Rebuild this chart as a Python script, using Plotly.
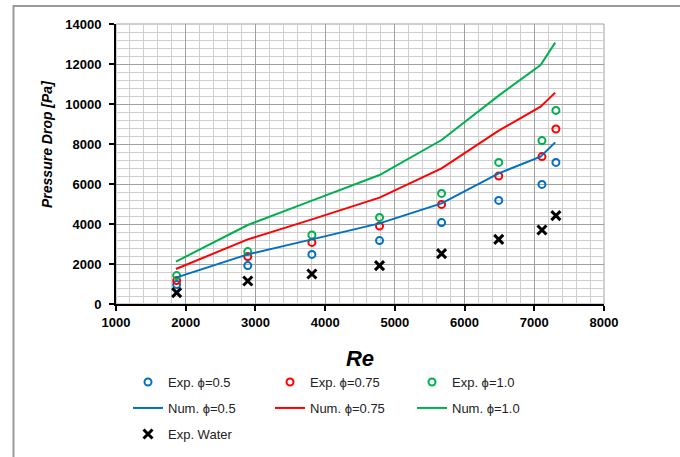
import plotly.graph_objects as go

# ---- data ----
re_exp = [1870, 2890, 3810, 4780, 5670, 6490, 7110, 7310]
re_num = [1860, 2890, 3810, 4780, 5670, 6490, 7090, 7300]
exp_05 = [970, 1920, 2480, 3170, 4070, 5180, 5980, 7080]
exp_075 = [1170, 2370, 3080, 3900, 4980, 6400, 7370, 8750]
exp_10 = [1420, 2620, 3450, 4330, 5530, 7080, 8170, 9680]
num_05 = [1320, 2480, 3230, 4030, 5030, 6530, 7370, 8080]
num_075 = [1750, 3230, 4230, 5320, 6780, 8670, 9870, 10570]
num_10 = [2120, 3950, 5170, 6450, 8200, 10420, 11950, 13070]
exp_water = [570, 1150, 1500, 1920, 2520, 3230, 3700, 4420]

BLUE = "#0070C0"
RED = "#FF0000"
GREEN = "#00B050"
FONT = "Liberation Sans"

fig = go.Figure()

def circ(name, y, color, legend):
    fig.add_trace(go.Scatter(x=re_exp, y=y, mode="markers", name=name, legend=legend,
                             marker=dict(symbol="circle-open", size=7, color=color,
                                         line=dict(width=2, color=color))))

def line(name, y, color, legend):
    fig.add_trace(go.Scatter(x=re_num, y=y, mode="lines", name=name, legend=legend,
                             line=dict(color=color, width=2)))

circ("Exp. ϕ=0.5", exp_05, BLUE, "legend")
circ("Exp. ϕ=0.75", exp_075, RED, "legend")
circ("Exp. ϕ=1.0", exp_10, GREEN, "legend")
line("Num. ϕ=0.5", num_05, BLUE, "legend2")
line("Num. ϕ=0.75", num_075, RED, "legend2")
line("Num. ϕ=1.0", num_10, GREEN, "legend2")
fig.add_trace(go.Scatter(x=re_exp, y=exp_water, mode="markers", name="Exp. Water", legend="legend3",
                         marker=dict(symbol="x-thin", size=9, color="black",
                                     line=dict(width=3, color="black"))))

# page body margin is removed below, so layout is in window pixels
W, H = 680, 457
PL, PR, PT, PB = 116, 604, 24, 304          # plot area in window pixels
L, T = PL, PT
R, B = W - PR, H - PB
pw, ph = PR - PL, PB - PT

def px(x):
    return (x - PL) / pw

def py(y):
    return (PB - y) / ph

legend_common = dict(orientation="h", entrywidth=97, entrywidthmode="pixels",
                     font=dict(family=FONT, size=13, color="#222"),
                     bgcolor="rgba(0,0,0,0)", xanchor="left", yanchor="middle",
                     itemwidth=30, tracegroupgap=0)

fig.update_layout(
    width=W, height=H,
    margin=dict(l=L, r=R, t=T, b=B, autoexpand=False),
    paper_bgcolor="white", plot_bgcolor="white",
    font=dict(family=FONT, color="black"),
    showlegend=True,
    legend=dict(x=px(128), y=py(382), **legend_common),
    legend2=dict(x=px(128), y=py(408), **legend_common),
    legend3=dict(x=px(128), y=py(434), **legend_common),
    xaxis=dict(range=[1000, 8000], dtick=1000, tick0=1000, tickformat="d",
               showgrid=True, gridcolor="#a0a0a0", gridwidth=1,
               minor=dict(dtick=200, showgrid=True, gridcolor="#cfcfcf", gridwidth=1),
               showline=True, linecolor="black", linewidth=2,
               ticks="outside", ticklen=5, tickcolor="black", tickwidth=1.5,
               tickfont=dict(family=FONT, size=13, color="black", weight="bold"),
               zeroline=False,
               title=dict(text="<b><i>Re</i></b>", font=dict(family=FONT, size=22, color="black"),
                          standoff=22)),
    yaxis=dict(range=[0, 14000], dtick=2000, tickformat="d",
               showgrid=True, gridcolor="#a0a0a0", gridwidth=1,
               minor=dict(dtick=400, showgrid=True, gridcolor="#cfcfcf", gridwidth=1),
               showline=True, linecolor="black", linewidth=2,
               ticks="outside", ticklen=5, tickcolor="black", tickwidth=1.5,
               ticklabelstandoff=5,
               tickfont=dict(family=FONT, size=13, color="black", weight="bold"),
               zeroline=False),
    annotations=[dict(text="<b><i>Pressure Drop [Pa]</i></b>", textangle=-90,
                      xref="paper", yref="paper", x=px(47), y=py(144),
                      showarrow=False, font=dict(family=FONT, size=14, color="black"),
                      xanchor="center", yanchor="middle")],
    shapes=[
        dict(type="rect", xref="paper", yref="paper", x0=0, x1=1, y0=0, y1=1,
             line=dict(color="#a0a0a0", width=1), layer="below"),
        dict(type="rect", xref="paper", yref="paper",
             x0=px(13.5), x1=px(700), y0=py(470), y1=py(6),
             line=dict(color="#999999", width=2), fillcolor="rgba(0,0,0,0)"),
    ],
)

fig.write_html("out.html", config=dict(displayModeBar=False),
               post_script="document.body.style.margin='0';document.body.style.overflow='hidden';")
